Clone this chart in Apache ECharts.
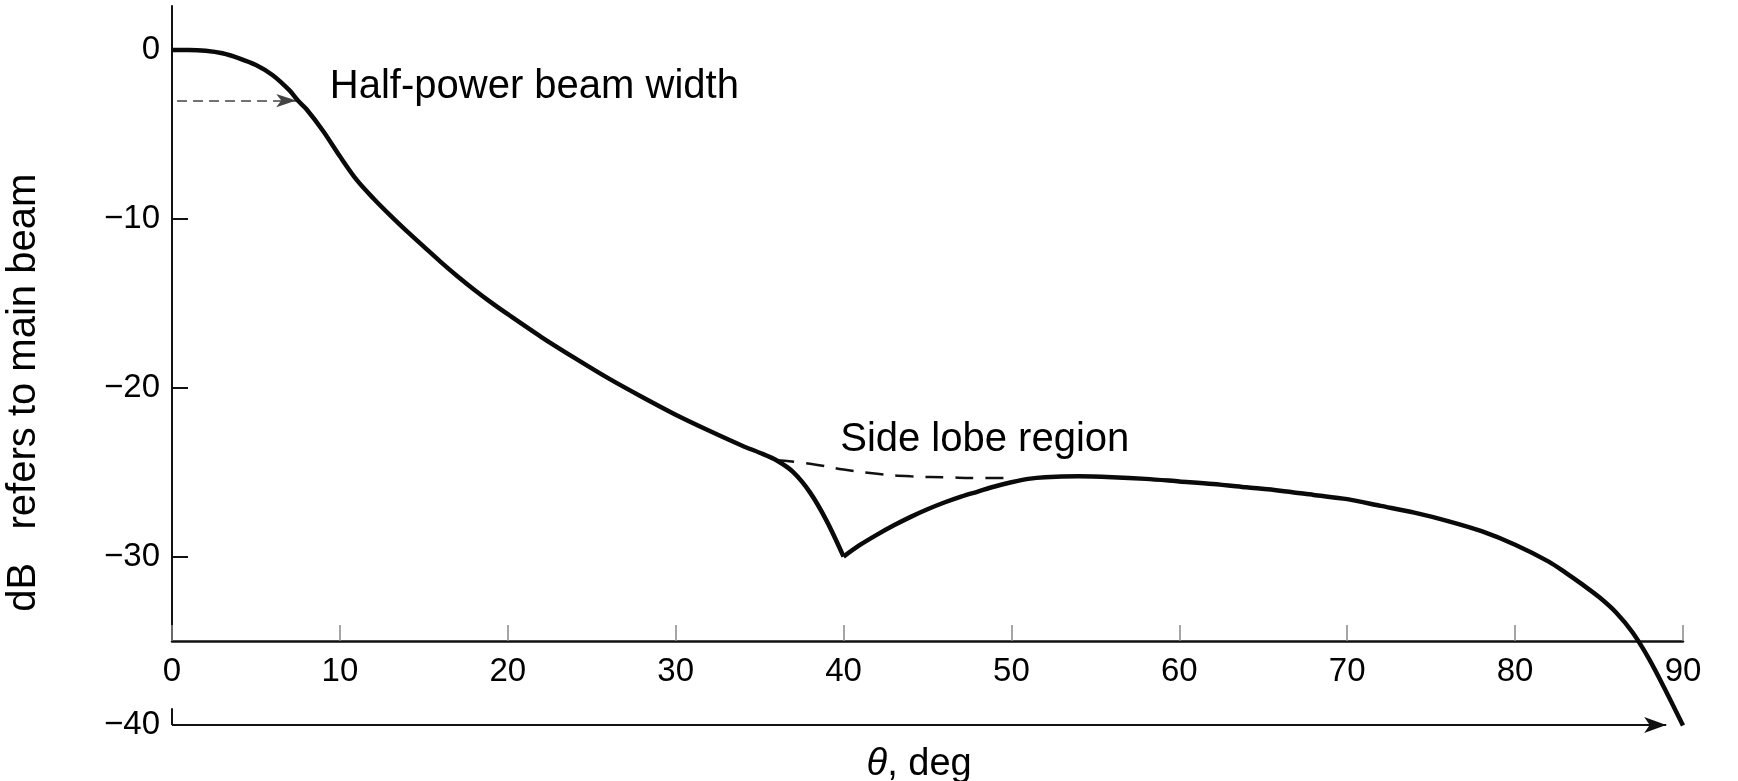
<!DOCTYPE html>
<html><head><meta charset="utf-8">
<script src="https://cdn.jsdelivr.net/npm/echarts@6/dist/echarts.min.js"></script>
<style>html,body{margin:0;padding:0;background:#fff}#c{width:1738px;height:781px}</style>
</head><body><div id="c"></div>
<script>
// Radiation pattern: main lobe and first null (angle in deg, level in dB)
const mainLobeTheta = [0, 1, 2, 3, 4, 5, 6, 7, 7.5, 8, 9, 10, 11, 12, 13, 14, 15, 16, 17, 18, 19, 20, 22, 24, 26, 28, 30, 32, 34, 35, 36, 37, 38, 39, 40];
const mainLobeDb = [0, 0, -0.05, -0.2, -0.5, -0.9, -1.5, -2.4, -3.0, -3.5, -4.8, -6.3, -7.7, -8.8, -9.8, -10.75, -11.65, -12.55, -13.4, -14.2, -14.95, -15.65, -17.0, -18.25, -19.45, -20.55, -21.6, -22.55, -23.45, -23.85, -24.3, -25.0, -26.2, -27.9, -30.0];
// Side-lobe part of the pattern
const sideLobeTheta = [40, 41, 42, 43, 44, 45, 46, 47, 48, 49, 50, 51, 52, 54, 56, 58, 60, 62, 64, 66, 68, 70, 72, 74, 76, 78, 80, 82, 83, 84, 85, 86, 87, 88, 89, 90];
const sideLobeDb = [-30.0, -29.3, -28.7, -28.15, -27.65, -27.2, -26.8, -26.45, -26.15, -25.85, -25.6, -25.4, -25.3, -25.25, -25.3, -25.4, -25.55, -25.7, -25.9, -26.1, -26.35, -26.6, -27.0, -27.4, -27.9, -28.5, -29.3, -30.3, -30.95, -31.65, -32.4, -33.3, -34.5, -36.1, -38.0, -40.0];
// Side lobe envelope (dashed)
const envelopeTheta = [36, 38, 40, 42, 44, 46, 48, 50];
const envelopeDb = [-24.3, -24.5, -24.85, -25.1, -25.25, -25.3, -25.35, -25.35];
// Axis ticks
const yLabelValues = [0, -10, -20, -30];
const yTickValues = [0, -10, -20, -30];
const lowerLabelValues = [-40];
// Annotation values
const halfPowerLevel = -3;
const halfPowerStart = 0.3;
const halfPowerEnd = 7.4;
const yAxisTop = 2.6;
const xAxisLevel = -35;
const bottomLevel = -40;
const bracketTheta = [0, 0];
const bracketDb = [-39, -40];
const arrowEndTheta = 89.0;

const chart = echarts.init(document.getElementById('c'), null, {renderer: 'canvas'});
const tickFont = "'Liberation Sans', Arial, sans-serif";
const textFont = "'Liberation Sans', Arial, sans-serif";
const fmt = v => (v < 0 ? '\u2212' + Math.abs(v) : String(v));
const curveStyle = {color: '#0a0a0a', width: 4.5};

chart.setOption({
  animation: false,
  backgroundColor: '#fff',
  grid: [
    {left: 172, right: 55, top: 6, bottom: 140},
    {left: 172, right: 55, top: 641, bottom: 56}
  ],
  xAxis: [
    {
      gridIndex: 0, type: 'value', min: 0, max: 90, interval: 10,
      axisLine: {show: true, onZero: false, lineStyle: {color: '#111', width: 2.5}},
      axisTick: {show: true, inside: true, length: 16, lineStyle: {color: '#888', width: 1.5}},
      axisLabel: {color: '#000', fontSize: 33, fontFamily: tickFont, margin: 14},
      splitLine: {show: false}
    },
    {gridIndex: 1, type: 'value', min: 0, max: 90, show: false}
  ],
  yAxis: [
    {
      gridIndex: 0, type: 'value', min: xAxisLevel, max: yAxisTop,
      axisLine: {show: true, onZero: false, lineStyle: {color: '#111', width: 2}},
      axisTick: {show: true, inside: true, length: 16, customValues: yTickValues, lineStyle: {color: '#111', width: 2}},
      axisLabel: {color: '#000', fontSize: 33, fontFamily: tickFont, margin: 12, customValues: yLabelValues, formatter: fmt},
      splitLine: {show: false}
    },
    {
      gridIndex: 1, type: 'value', min: bottomLevel, max: xAxisLevel,
      axisLine: {show: false}, axisTick: {show: false},
      axisLabel: {color: '#000', fontSize: 33, fontFamily: tickFont, margin: 12, customValues: lowerLabelValues, formatter: fmt},
      splitLine: {show: false}
    }
  ],
  series: [
    {
      type: 'line', xAxisIndex: 0, yAxisIndex: 0,
      data: mainLobeTheta.map((t, i) => [t, mainLobeDb[i]]),
      showSymbol: false, smooth: 0.3, clip: false, lineStyle: curveStyle, z: 5,
      markLine: {
        silent: true, animation: false, label: {show: false},
        data: [
          [{coord: [halfPowerStart, halfPowerLevel], symbol: 'none', lineStyle: {type: [10, 6], width: 1.5, color: '#444'}},
           {coord: [halfPowerEnd, halfPowerLevel], symbol: 'arrow', symbolSize: [10, 20]}]
        ]
      }
    },
    {
      type: 'line', xAxisIndex: 0, yAxisIndex: 0,
      data: sideLobeTheta.map((t, i) => [t, sideLobeDb[i]]),
      showSymbol: false, smooth: 0.3, clip: false, lineStyle: curveStyle, z: 5
    },
    {
      type: 'line', xAxisIndex: 0, yAxisIndex: 0,
      data: envelopeTheta.map((t, i) => [t, envelopeDb[i]]),
      showSymbol: false, smooth: true,
      lineStyle: {color: '#111', width: 2.5, type: [18, 12]}, z: 4
    },
    {
      type: 'line', xAxisIndex: 1, yAxisIndex: 1,
      data: bracketTheta.map((t, i) => [t, bracketDb[i]]),
      showSymbol: false, clip: false, lineStyle: {color: '#111', width: 2}, z: 3,
      markLine: {
        silent: true, animation: false, label: {show: false},
        lineStyle: {color: '#111', width: 2, type: 'solid'},
        data: [
          [{coord: [0, bottomLevel], symbol: 'none'}, {coord: [arrowEndTheta, bottomLevel], symbol: 'arrow', symbolSize: [12, 22]}]
        ]
      }
    }
  ]
});

const px = (x, y) => chart.convertToPixel({gridIndex: 0}, [x, y]);
const hp = px(9.4, -2.2);
const sl = px(39.8, -23.1);
const th = px(44.5, -42.3);
const yn = [24, px(0, -20.3)[1]];
const txt = (t, extra) => Object.assign({text: t, fill: '#000', font: '40px ' + textFont}, extra);
chart.setOption({
  graphic: [
    {type: 'text', x: hp[0], y: hp[1], style: txt('Half-power beam width', {textAlign: 'left', textVerticalAlign: 'middle', align: 'left', verticalAlign: 'middle'})},
    {type: 'text', x: sl[0], y: sl[1], style: txt('Side lobe region', {textAlign: 'left', textVerticalAlign: 'middle', align: 'left', verticalAlign: 'middle'})},
    {type: 'text', x: th[0], y: th[1], style: txt('{i|\u03b8}, deg', {font: '38px ' + textFont, textAlign: 'center', textVerticalAlign: 'middle', align: 'center', verticalAlign: 'middle',
      rich: {i: {fontStyle: 'italic', fontSize: 38, fontFamily: textFont, fill: '#000'}}})},
    {type: 'text', x: yn[0], y: yn[1], rotation: Math.PI / 2, style: txt('dB   refers to main beam', {textAlign: 'center', textVerticalAlign: 'middle', align: 'center', verticalAlign: 'middle'})}
  ]
});
</script></body></html>
